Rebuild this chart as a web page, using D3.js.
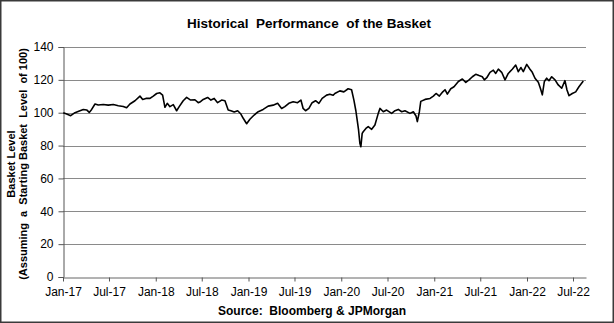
<!DOCTYPE html>
<html><head><meta charset="utf-8">
<script src="https://cdn.jsdelivr.net/npm/d3@7"></script>
<style>body{margin:0;background:#fff}svg{display:block;font-family:"Liberation Sans",Arial,sans-serif}</style>
</head><body>
<svg id="c" width="614" height="323"></svg>
<script>
// time as decimal years since 2017-01-01
const times = [0.003,0.040,0.083,0.129,0.183,0.219,0.255,0.283,0.309,0.345,0.380,0.434,0.488,0.542,0.596,0.650,0.686,0.722,0.776,0.830,0.859,0.894,0.938,0.973,1.010,1.045,1.074,1.099,1.124,1.153,1.189,1.225,1.253,1.296,1.333,1.376,1.422,1.458,1.476,1.512,1.559,1.595,1.630,1.667,1.710,1.746,1.781,1.810,1.846,1.883,1.918,1.943,1.980,2.015,2.061,2.105,2.158,2.212,2.266,2.314,2.357,2.392,2.435,2.482,2.529,2.565,2.589,2.615,2.651,2.686,2.723,2.759,2.794,2.842,2.877,2.913,2.931,2.985,3.028,3.074,3.111,3.136,3.157,3.171,3.186,3.200,3.211,3.225,3.236,3.265,3.290,3.327,3.362,3.398,3.416,3.452,3.488,3.542,3.578,3.613,3.650,3.685,3.739,3.775,3.804,3.818,3.840,3.855,3.901,3.955,3.990,4.019,4.055,4.092,4.116,4.141,4.178,4.213,4.260,4.303,4.340,4.375,4.411,4.447,4.483,4.518,4.540,4.566,4.601,4.637,4.663,4.691,4.727,4.763,4.798,4.841,4.878,4.906,4.935,4.960,4.997,5.032,5.057,5.086,5.122,5.144,5.165,5.187,5.212,5.237,5.266,5.302,5.337,5.374,5.409,5.431,5.453,5.488,5.525,5.560,5.607];
const basket = [100,99.2,98.2,100,101.2,102,101.7,100.2,102,105.3,104.7,105,104.6,105,104.2,103.8,103.0,105.3,107.3,110.1,108.1,108.7,108.7,110.1,111.7,112.1,110.7,103.3,105.7,103.7,104.9,101.2,103.7,107.3,109.3,107.7,107.9,106.1,106.5,108.1,109.3,107.7,108.7,106.1,107.7,107.3,101.6,101.2,100.4,101.2,99.2,96.6,93.3,96,98.6,100.6,102,104,104.6,105.7,102.6,103.7,105.7,106.7,106.1,107.7,102.6,101.2,102.6,106.1,107.3,105.7,108.7,110.7,111.3,110.6,111.7,113.3,112.7,114.6,114,107.7,101.2,95.7,89.5,81.4,79.3,87.4,88.4,90.4,91.5,89.9,92.5,99.6,102.6,100.6,101.6,99.6,101.2,102,100.6,101.2,99.6,100.6,98,94.6,100.6,106.9,108.1,108.7,110.1,111.7,110.1,112.7,114,111.3,114.6,115.8,119,120.5,118.5,120,121.9,123.4,122.6,121.9,120,121.3,124.6,125.9,123.9,126.5,124.6,120,123.9,126.5,129,125,127.5,125,129.4,126.5,124.6,121,118.5,114.9,110.9,119,121,119.5,121.9,120,116.9,114.9,119.5,113.8,110.4,111.7,112.7,115.8,119.3];
const yTicks = [0,20,40,60,80,100,120,140];
const xTickLabels = ["Jan-17","Jul-17","Jan-18","Jul-18","Jan-19","Jul-19","Jan-20","Jul-20","Jan-21","Jul-21","Jan-22","Jul-22"];
const titleText = "Historical  Performance  of the Basket";
const yLabel1 = "Basket Level";
const yLabel2 = "(Assuming  a  Starting Basket  Level  of 100)";
const sourceText = "Source:  Bloomberg & JPMorgan";

const toDate = t => { const y = 2017 + Math.floor(t); const f = t - Math.floor(t);
  const s = Date.UTC(y,0,1), e = Date.UTC(y+1,0,1); return new Date(s + f*(e-s)); };
const data = times.map((t,i)=>({d:toDate(t), v:basket[i]}));
const fmt = d3.utcFormat("%b-%y");
const tickDates = xTickLabels.map(s => d3.utcParse("%b-%y")(s));

const svg = d3.select("#c");
const L=63, R=586, T=47, B=277;
const x = d3.scaleUtc().domain([Date.UTC(2017,0,1), toDate(5.636)]).range([L,R]);
const y = d3.scaleLinear().domain([0,140]).range([B,T]);

svg.append("rect").attr("x",0.75).attr("y",0.75).attr("width",612.5).attr("height",321.5)
  .attr("fill","#fff").attr("stroke","#3a3a3a").attr("stroke-width",1.5);

// gridlines
svg.append("g").selectAll("line").data(yTicks.filter(v=>v>0)).join("line")
  .attr("x1",L).attr("x2",R).attr("y1",d=>Math.round(y(d))+0.5).attr("y2",d=>Math.round(y(d))+0.5)
  .attr("stroke","#8a8a8a").attr("stroke-width",1);

// y axis
const ya = svg.append("g").attr("transform",`translate(${L+0.5},0)`)
  .call(d3.axisLeft(y).tickValues(yTicks).tickSize(5).tickPadding(5).tickFormat(d3.format("d")));
ya.select(".domain").attr("stroke","#555");
ya.selectAll(".tick line").attr("stroke","#555");
ya.selectAll("text").attr("font-size",12).attr("fill","#000").attr("font-family","Liberation Sans, Arial, sans-serif");

// x axis
const xa = svg.append("g").attr("transform",`translate(0,${Math.round(B)+0.5})`)
  .call(d3.axisBottom(x).tickValues(tickDates).tickSize(4).tickPadding(6).tickFormat(fmt).tickSizeOuter(0));
xa.select(".domain").attr("stroke","#666");
xa.selectAll(".tick line").attr("stroke","#555");
xa.selectAll("text").attr("font-size",12).attr("fill","#000").attr("font-family","Liberation Sans, Arial, sans-serif");

// line
svg.append("path").datum(data)
  .attr("d", d3.line().x(d=>x(d.d)).y(d=>y(d.v)))
  .attr("fill","none").attr("stroke","#000").attr("stroke-width",1.6).attr("stroke-linejoin","round");

svg.append("text").attr("x",309).attr("y",28).attr("text-anchor","middle")
  .attr("font-size",13.5).attr("font-weight","bold").style("white-space","pre").text(titleText);
svg.append("text").attr("x",312).attr("y",315).attr("text-anchor","middle")
  .attr("font-size",12).attr("font-weight","bold").style("white-space","pre").text(sourceText);
const yl = svg.append("text").attr("transform","translate(15,164) rotate(-90)")
  .attr("text-anchor","middle").attr("font-size",11).attr("font-weight","bold").style("white-space","pre");
yl.append("tspan").attr("x",0).attr("dy",0).text(yLabel1);
yl.append("tspan").attr("x",0).attr("dy",12).text(yLabel2);
</script>
</body></html>
